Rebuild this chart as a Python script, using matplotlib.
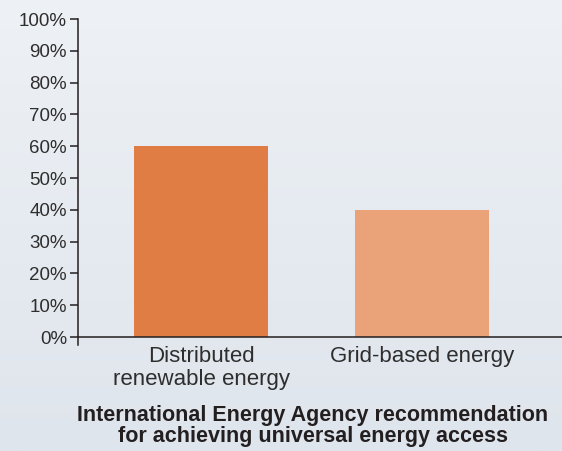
import matplotlib
matplotlib.use("Agg")
import matplotlib.pyplot as plt
import numpy as np
from matplotlib.colors import LinearSegmentedColormap

categories = ["Distributed\nrenewable energy", "Grid-based energy"]
values = [60, 40]
colors = ["#E07D45", "#EAA378"]
yticks = [0, 10, 20, 30, 40, 50, 60, 70, 80, 90, 100]
ytick_labels = [f"{v}%" for v in yticks]
title = "International Energy Agency recommendation\nfor achieving universal energy access"

plt.rcParams['font.family'] = ['Liberation Sans', 'DejaVu Sans']
txt = "#2e2e2e"

fig = plt.figure(figsize=(5.62, 4.51), dpi=100)
# background gradient
bg = fig.add_axes([0, 0, 1, 1], zorder=0)
grad = np.linspace(0, 1, 256).reshape(-1, 1)
cmap = LinearSegmentedColormap.from_list("bg", ["#eef1f5", "#e6ebf1", "#dfe5ec"])
bg.imshow(grad, aspect="auto", cmap=cmap, extent=[0, 1, 0, 1])
bg.axis("off")

ax = fig.add_axes([78/562, 1 - 345/451, 1 - 78/562, (345 - 19)/451], zorder=1)
ax.patch.set_alpha(0)
x = np.arange(len(categories))
ax.bar(x, values, width=0.606, color=colors, zorder=2)
ax.set_xlim(-0.557, 1.633)
ax.set_ylim(-2.5, 100)
ax.spines['top'].set_visible(False)
ax.spines['right'].set_visible(False)
ax.spines['bottom'].set_position(('data', 0))
for s in ('left', 'bottom'):
    ax.spines[s].set_color("#231f20")
    ax.spines[s].set_linewidth(1.1)
ax.set_yticks(yticks)
ax.set_yticklabels(ytick_labels, fontsize=13.5, color=txt)
ax.tick_params(axis='y', length=6, width=1.1, color="#231f20", pad=2)
ax.set_xticks(x)
ax.set_xticklabels(categories, fontsize=16, color=txt, linespacing=1.12)
ax.tick_params(axis='x', length=0, pad=6.5)

fig.text(313/562, 1 - 426/451, title, ha="center", va="center",
         fontsize=15.5, fontweight="bold", color="#231f20", linespacing=1.02)

fig.savefig("out.png", dpi=100)
